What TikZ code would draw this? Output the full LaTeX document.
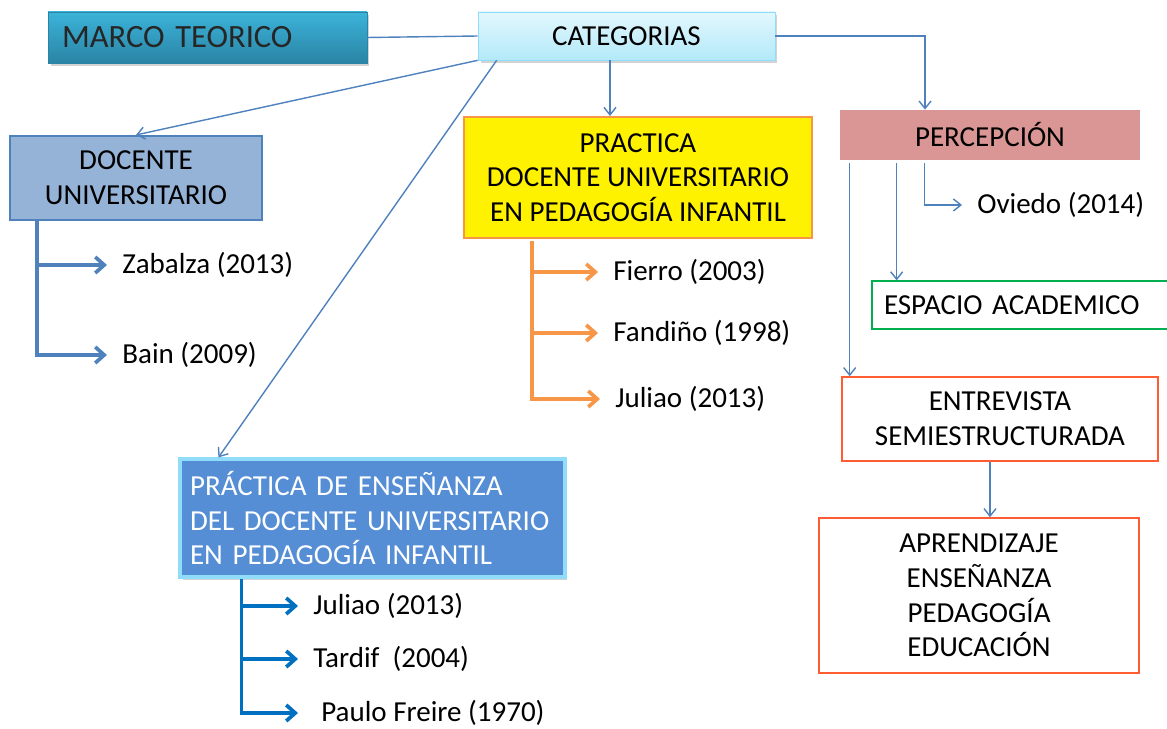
\documentclass[tikz,border=0pt]{standalone}
\usepackage{fontspec}
\setmainfont{Carlito}
\usepackage{tikz}
\usepackage{xcolor}
\usetikzlibrary{calc,arrows.meta,shadows,positioning}
\definecolor{blue1}{HTML}{4F81BD}
\definecolor{blue2}{HTML}{95B3D7}
\definecolor{blue3}{HTML}{558ED5}
\definecolor{blue4}{HTML}{0070C0}
\definecolor{cyan1}{HTML}{8FDDFB}
\definecolor{teal1}{HTML}{3BB3D9}
\definecolor{teal2}{HTML}{2A84A5}
\definecolor{ice1}{HTML}{E3F7FD}
\definecolor{ice2}{HTML}{B3E9F9}
\definecolor{orange1}{HTML}{F79646}
\definecolor{rose1}{HTML}{D99694}
\definecolor{green1}{HTML}{00B050}
\definecolor{red1}{HTML}{FF5C33}

\begin{document}
\begin{tikzpicture}[x=0.02cm,y=-0.02cm,
  font=\fontsize{16.5}{19.8}\selectfont,
  box/.style={inner sep=0pt,align=center},
  shade1/.style={drop shadow={shadow xshift=0.05cm,shadow yshift=-0.07cm,opacity=0.35}},
  link/.style={blue1,line width=0.8pt,-{Straight Barb[length=1.5mm,width=2.4mm]}},
  branch/.style={line width=2.1pt,-{Straight Barb[length=1.8mm,width=3.2mm]}},
  ref/.style={anchor=west,inner sep=0pt,inner xsep=0.3cm}]

\useasboundingbox (0,0) rectangle (1167,729);

% cajas
\node[box,minimum width=6.38cm,minimum height=1.02cm,draw=teal2,top color=teal1,bottom color=teal2,shade1,
      text width=5.82cm,align=left,font=\fontsize{18.5}{22}\selectfont,text=black!85] (marco) at (207.5,37.5) {MARCO TEORICO};
\node[box,minimum width=5.94cm,minimum height=0.96cm,draw=cyan1,top color=ice1,bottom color=ice2,shade1] (cat) at (626.5,36) {CATEGORIAS};

\node[box,minimum width=5.04cm,minimum height=1.68cm,draw=blue1,line width=1.2pt,fill=blue2] (docente) at (136,178) {DOCENTE\\UNIVERSITARIO};
\node[box,minimum width=6.96cm,minimum height=2.42cm,draw=orange1,line width=1.2pt,fill=yellow] (practica) at (638,177.5) {PRACTICA\\DOCENTE UNIVERSITARIO\\EN PEDAGOGÍA INFANTIL};
\node[box,minimum width=6cm,minimum height=1cm,fill=rose1] (percep) at (990,135) {PERCEPCIÓN};

\node[box,minimum width=6cm,minimum height=0.96cm,draw=green1,line width=0.7pt,text width=5.52cm,align=left] (espacio) at (1022,305) {ESPACIO ACADEMICO};
\node[box,minimum width=6.32cm,minimum height=1.68cm,draw=red1,line width=0.9pt] (entrev) at (1000,419) {ENTREVISTA\\SEMIESTRUCTURADA};
\node[box,minimum width=6.4cm,minimum height=3.1cm,draw=red1,line width=0.9pt] (aprend) at (979,595.5) {APRENDIZAJE\\ENSEÑANZA\\PEDAGOGÍA\\EDUCACIÓN};

\node[box,minimum width=7.7cm,minimum height=2.36cm,draw=cyan1,line width=1.8pt,fill=blue3,shade1,
      text=white,text width=7.3cm,align=left] (ense) at (372.5,518) {PRÁCTICA DE ENSEÑANZA\\DEL DOCENTE UNIVERSITARIO\\EN PEDAGOGÍA INFANTIL};

% autores
\node[ref] (zab) at (107,265) {Zabalza (2013)};
\node[ref] (bain) at (107,355) {Bain (2009)};
\node[ref] (fierro) at (598,272) {Fierro (2003)};
\node[ref] (fandino) at (598,333) {Fandiño (1998)};
\node[ref] (juliaoA) at (600,399) {Juliao (2013)};
\node[ref] (oviedo) at (962,205) {Oviedo (2014)};
\node[ref] (juliaoB) at (298,606) {Juliao (2013)};
\node[ref] (tardif) at (298,659) {Tardif~ (2004)};
\node[ref,inner xsep=0.46cm] (freire) at (298,713) {Paulo Freire (1970)};

% conectores de categorias
\draw[blue1,line width=0.8pt] (marco.east) -- (cat.west);
\draw[link] (cat.east) -| ([xshift=-1.3cm]percep.north);
\coordinate (c1) at ([xshift=-0.33cm]cat.south);
\draw[link] (c1) -- (c1 |- practica.north);
\draw[link] (cat.south west) -- (docente.north);
\draw[link] ([xshift=0.38cm]cat.south west) -- ([xshift=0.8cm]ense.north west);

% ramas
\coordinate (dbus) at ([xshift=0.56cm]docente.south west);
\draw[branch,blue1] (dbus) |- (bain.west);
\draw[branch,blue1] (dbus |- zab.west) -- (zab.west);

\coordinate (pbus) at ([xshift=1.38cm,yshift=-0.04cm]practica.south west);
\draw[branch,orange1] (pbus) |- (juliaoA.west);
\draw[branch,orange1] (pbus |- fierro.west) -- (fierro.west);
\draw[branch,orange1] (pbus |- fandino.west) -- (fandino.west);

\coordinate (ebus) at ([xshift=1.26cm]ense.south west);
\draw[branch,blue4] (ebus) |- (freire.west);
\draw[branch,blue4] (ebus |- juliaoB.west) -- (juliaoB.west);
\draw[branch,blue4] (ebus |- tardif.west) -- (tardif.west);

% percepcion
\coordinate (p1) at ([xshift=0.2cm,yshift=-0.06cm]percep.south west);
\coordinate (p2) at ([xshift=1.14cm,yshift=-0.06cm]percep.south west);
\coordinate (p3) at ([xshift=1.7cm,yshift=-0.06cm]percep.south west);
\draw[link] (p3) |- (oviedo.west);
\draw[link] (p2) -- (p2 |- espacio.north);
\draw[link] (p1) -- (p1 |- entrev.north);

\coordinate (e1) at ([xshift=-0.2cm]entrev.south);
\draw[link] (e1) -- (e1 |- aprend.north);

\end{tikzpicture}
\end{document}
